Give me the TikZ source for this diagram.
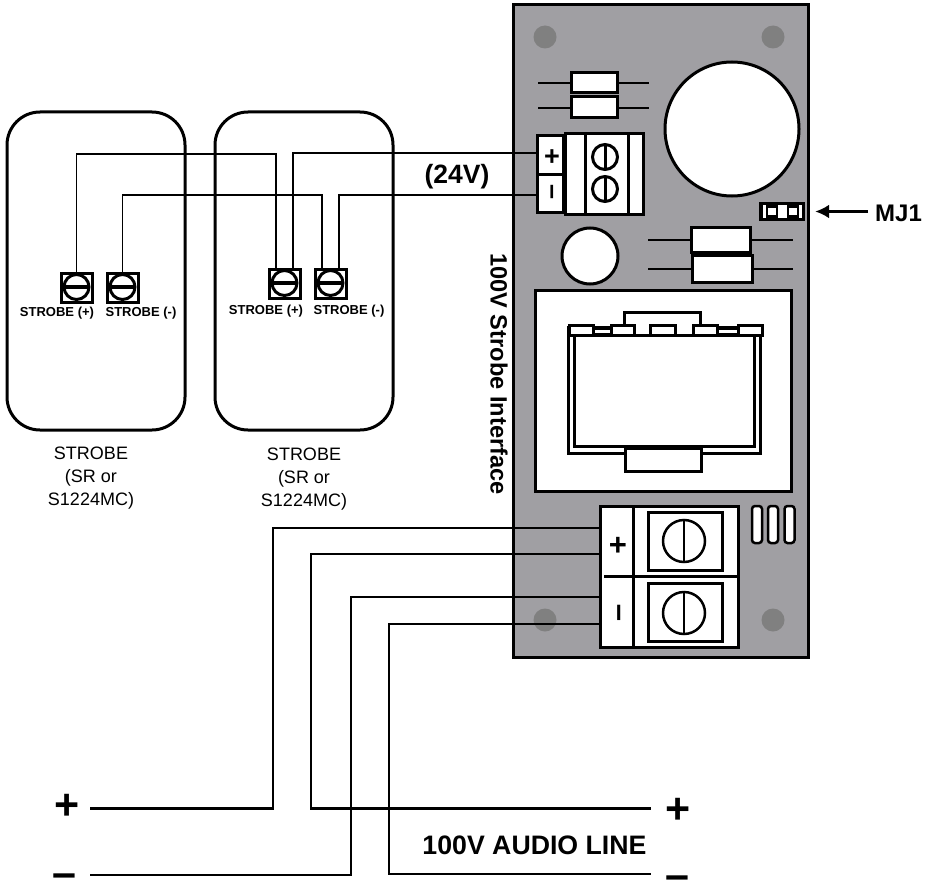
\documentclass[tikz,border=0pt]{standalone}
\usepackage{fontspec}
\setmainfont{Liberation Sans}
\usetikzlibrary{shapes,arrows.meta,positioning}
\definecolor{boardgray}{HTML}{A09FA3}
\definecolor{holegray}{HTML}{808080}

\begin{document}
\begin{tikzpicture}[x=1pt, y=-1pt]
        \tikzstyle{board} = [rectangle, draw, fill=boardgray, line width=3pt, inner sep=0pt, outer sep=0pt]
        \tikzstyle{hole} = [circle, fill=holegray, minimum size=23pt, inner sep=0pt]
        \tikzstyle{part} = [rectangle, draw, fill=white, line width=3pt, inner sep=0pt, outer sep=0pt]
        \tikzstyle{disc} = [circle, draw, fill=white, line width=3pt, inner sep=0pt, outer sep=0pt]
        \tikzstyle{strobe} = [rectangle, draw, rounded corners=33pt, line width=3pt, minimum width=178pt, minimum height=318pt, inner sep=0pt]
        \tikzstyle{post} = [part, minimum width=31pt, minimum height=29pt]
        \tikzstyle{screw} = [disc, minimum size=25pt]
        \tikzstyle{bigscrew} = [disc, line width=2.5pt, minimum size=42pt]
        \tikzstyle{lead} = [draw, line width=2.5pt]
        \tikzstyle{wire} = [draw, line width=1.4pt]
        \tikzstyle{audio} = [draw, line width=2.6pt]
        \tikzstyle{pill} = [part, line width=2.5pt, rounded corners=3pt, minimum width=10pt, minimum height=37pt]
        \tikzstyle{tab} = [part, minimum height=10pt]
        \tikzstyle{small} = [font=\fontsize{13}{15}\selectfont\bfseries]
        \tikzstyle{title} = [align=center, font=\fontsize{18}{23}\selectfont]
        \tikzstyle{bold} = [font=\fontsize{24}{24}\selectfont\bfseries]
        \tikzstyle{sign} = [font=\fontsize{27}{27}\selectfont\bfseries, inner sep=0pt]
        \tikzstyle{bigsign} = [font=\fontsize{43}{43}\selectfont\bfseries, inner sep=0pt]

        \useasboundingbox (0,0) rectangle (934,880);

        % interface board
        \node [board, minimum width=295pt, minimum height=652pt] (pcb) at (661,331) {};
        \node [hole] (holeA) at (545,37) {};
        \node [hole] (holeB) at (773,37) {};
        \node [hole] (holeC) at (545,620) {};
        \node [hole] (holeD) at (773,620) {};

        \path [lead] (538,83) -- (649,83);
        \path [lead] (538,108) -- (649,108);
        \node [part, minimum width=46pt, minimum height=20pt] (resA) at (594,83) {};
        \node [part, minimum width=46pt, minimum height=21pt] (resB) at (594,107.5) {};
        \path [lead] (648,240) -- (793,240);
        \path [lead] (648,269) -- (793,269);
        \node [part, minimum width=59pt, minimum height=25pt] (resC) at (720.5,239.5) {};
        \node [part, minimum width=60pt, minimum height=27pt] (resD) at (722,268.5) {};
        \node [disc, minimum size=134pt] (capA) at (732,129) {};
        \node [disc, minimum size=56pt] (capB) at (590,256) {};

        % 24V terminal
        \node [part, minimum width=26pt, minimum height=38pt] (plusCell) at (550,155) {};
        \node [part, minimum width=26pt, minimum height=38pt] (minusCell) at (550,193) {};
        \node [sign] (plusSign) at (552,158) {+};
        \node [sign, rotate=90] (minusSign) at (555,192) {–};
        \node [part, minimum width=78pt, minimum height=80pt] (block) at (604,174) {};
        \path [draw, line width=3pt] (585,134) -- (585,214);
        \path [draw, line width=3pt] (628,134) -- (628,214);
        \node [screw] (screwA) at (605,157) {};
        \node [screw] (screwB) at (605,189) {};
        \path [draw, line width=3pt] (screwA.north) -- (screwA.south);
        \path [draw, line width=3pt] (screwB.north) -- (screwB.south);

        % jumper
        \node [rectangle, fill=black, minimum width=46pt, minimum height=19pt, inner sep=0pt] (jumper) at (782,211.5) {};
        \node [rectangle, fill=white, minimum width=39pt, minimum height=13pt, inner sep=0pt] (jumperIn) at (782.5,211.5) {};
        \node [part, line width=2.5pt, minimum width=10pt, minimum height=10pt] (pinA) at (772,211.5) {};
        \node [part, line width=2.5pt, minimum width=10pt, minimum height=10pt] (pinB) at (793,211.5) {};
        \node [bold, anchor=west, inner sep=0pt] (mjLabel) at (875,213) {MJ1};
        \draw [line width=2.5pt, -{Latex[length=14pt,width=14pt]}, shorten <=7pt, shorten >=10pt] (mjLabel.west |- jumper.east) -- (jumper.east);

        % transformer
        \node [part, minimum width=256pt, minimum height=201pt] (frame) at (663,390.5) {};
        \node [part, minimum width=192pt, minimum height=126pt] (coreOut) at (664,390) {};
        \node [part, minimum width=180pt, minimum height=111pt] (coreIn) at (664,390.5) {};
        \node [part, minimum width=76pt, minimum height=23pt] (hump) at (662,323.5) {};
        \node [part, line width=2pt, minimum width=18pt, minimum height=5pt] (linkA) at (602,331) {};
        \node [part, line width=2pt, minimum width=21pt, minimum height=5pt] (linkB) at (727.5,331) {};
        \node [tab, minimum width=24pt] (tabA) at (581,330) {};
        \node [tab, minimum width=23pt] (tabB) at (622.5,330) {};
        \node [tab, minimum width=25pt] (tabC) at (662.5,330) {};
        \node [tab, minimum width=24pt] (tabD) at (705,330) {};
        \node [tab, minimum width=24pt] (tabE) at (750,330) {};
        \node [part, minimum width=76pt, minimum height=23pt] (foot) at (663,459.5) {};

        % audio terminal
        \node [part, minimum width=138pt, minimum height=141pt] (audioBlock) at (669,576.5) {};
        \path [draw, line width=3pt] (633,506) -- (633,647);
        \path [draw, line width=3pt] (604,576) -- (738,576);
        \node [sign, font=\fontsize{31}{31}\selectfont\bfseries] (audioPlus) at (618,546) {+};
        \node [sign, font=\fontsize{31}{31}\selectfont\bfseries, rotate=90] (audioMinus) at (623,613) {–};
        \node [part, minimum width=74pt, minimum height=58pt] (seatA) at (685,541) {};
        \node [part, minimum width=74pt, minimum height=58pt] (seatB) at (685,612) {};
        \node [bigscrew] (screwC) at (684,541) {};
        \node [bigscrew] (screwD) at (684,613) {};
        \path [draw, line width=2.5pt] (screwC.north) -- (screwC.south);
        \path [draw, line width=2.5pt] (screwD.north) -- (screwD.south);
        \node [pill] (pillA) at (757,524.5) {};
        \node [pill] (pillB) at (773,524.5) {};
        \node [pill] (pillC) at (789.5,524.5) {};

        \node [rotate=-90, font=\fontsize{23.6}{24}\selectfont\bfseries] (boardLabel) at (499,374) {100V Strobe Interface};

        % strobes
        \node [strobe] (strobeA) at (96,271) {};
        \node [strobe] (strobeB) at (304,271) {};
        \node [post] (postA) at (76.5,287.5) {};
        \node [post] (postB) at (122.5,287.5) {};
        \node [post] (postC) at (284.5,283.5) {};
        \node [post] (postD) at (330.5,283.5) {};
        \node [screw] (slotA) at (76.5,287) {};
        \node [screw] (slotB) at (122.5,287) {};
        \node [screw] (slotC) at (284.5,283) {};
        \node [screw] (slotD) at (330.5,283) {};
        \path [draw, line width=4pt] (slotA.west) -- (slotA.east);
        \path [draw, line width=4pt] (slotB.west) -- (slotB.east);
        \path [draw, line width=4pt] (slotC.west) -- (slotC.east);
        \path [draw, line width=4pt] (slotD.west) -- (slotD.east);
        \node [small] (tagA) at (57,313) {STROBE (+)};
        \node [small] (tagB) at (141,313) {STROBE (-)};
        \node [small] (tagC) at (266,311) {STROBE (+)};
        \node [small] (tagD) at (349,311) {STROBE (-)};
        \node [title] (nameA) at (91,478) {STROBE\\(SR or\\S1224MC)};
        \node [title] (nameB) at (304,479) {STROBE\\(SR or\\S1224MC)};

        % strobe wiring
        \coordinate (busPlus) at (276,154);
        \coordinate (busMinus) at (322,195);
        \path [wire] (postA.north) |- (busPlus) -- (busPlus |- postC.north);
        \path [wire] (postB.north) |- (busMinus) -- (busMinus |- postD.north);
        \path [wire] ([xshift=8.5pt]postC.north) |- ([yshift=2pt]plusCell.west);
        \path [wire] ([xshift=8.5pt]postD.north) |- ([yshift=-2pt]minusCell.west);
        \node [bold, font=\fontsize{26.5}{27}\selectfont\bfseries] (volts) at (457,177) {(24V)};

        % audio line
        \node [bigsign] (inPlus) at (67,807) {+};
        \node [bigsign] (inMinus) at (64.5,881) {–};
        \node [bigsign] (outPlus) at (678,811) {+};
        \node [bigsign] (outMinus) at (677,883) {–};
        \coordinate (inPlusEnd) at (90,808.5);
        \coordinate (inMinusEnd) at (90,875);
        \coordinate (outPlusEnd) at (650.5,808.5);
        \coordinate (outMinusEnd) at (650.5,874);
        \coordinate (tapA) at (600,528);
        \coordinate (tapB) at (600,554);
        \coordinate (tapC) at (600,597);
        \coordinate (tapD) at (600,624);
        \path [audio] (inPlusEnd) -| (273,528) -- (tapA);
        \path [audio] (outPlusEnd) -- (311,808.5) |- (tapB);
        \path [audio] (inMinusEnd) -| (351,597) -- (tapC);
        \path [audio] (outMinusEnd) -- (389,874) |- (tapD);
        \node [font=\fontsize{26.7}{27}\selectfont\bfseries] (lineLabel) at (534.5,845) {100V AUDIO LINE};
\end{tikzpicture}
\end{document}
